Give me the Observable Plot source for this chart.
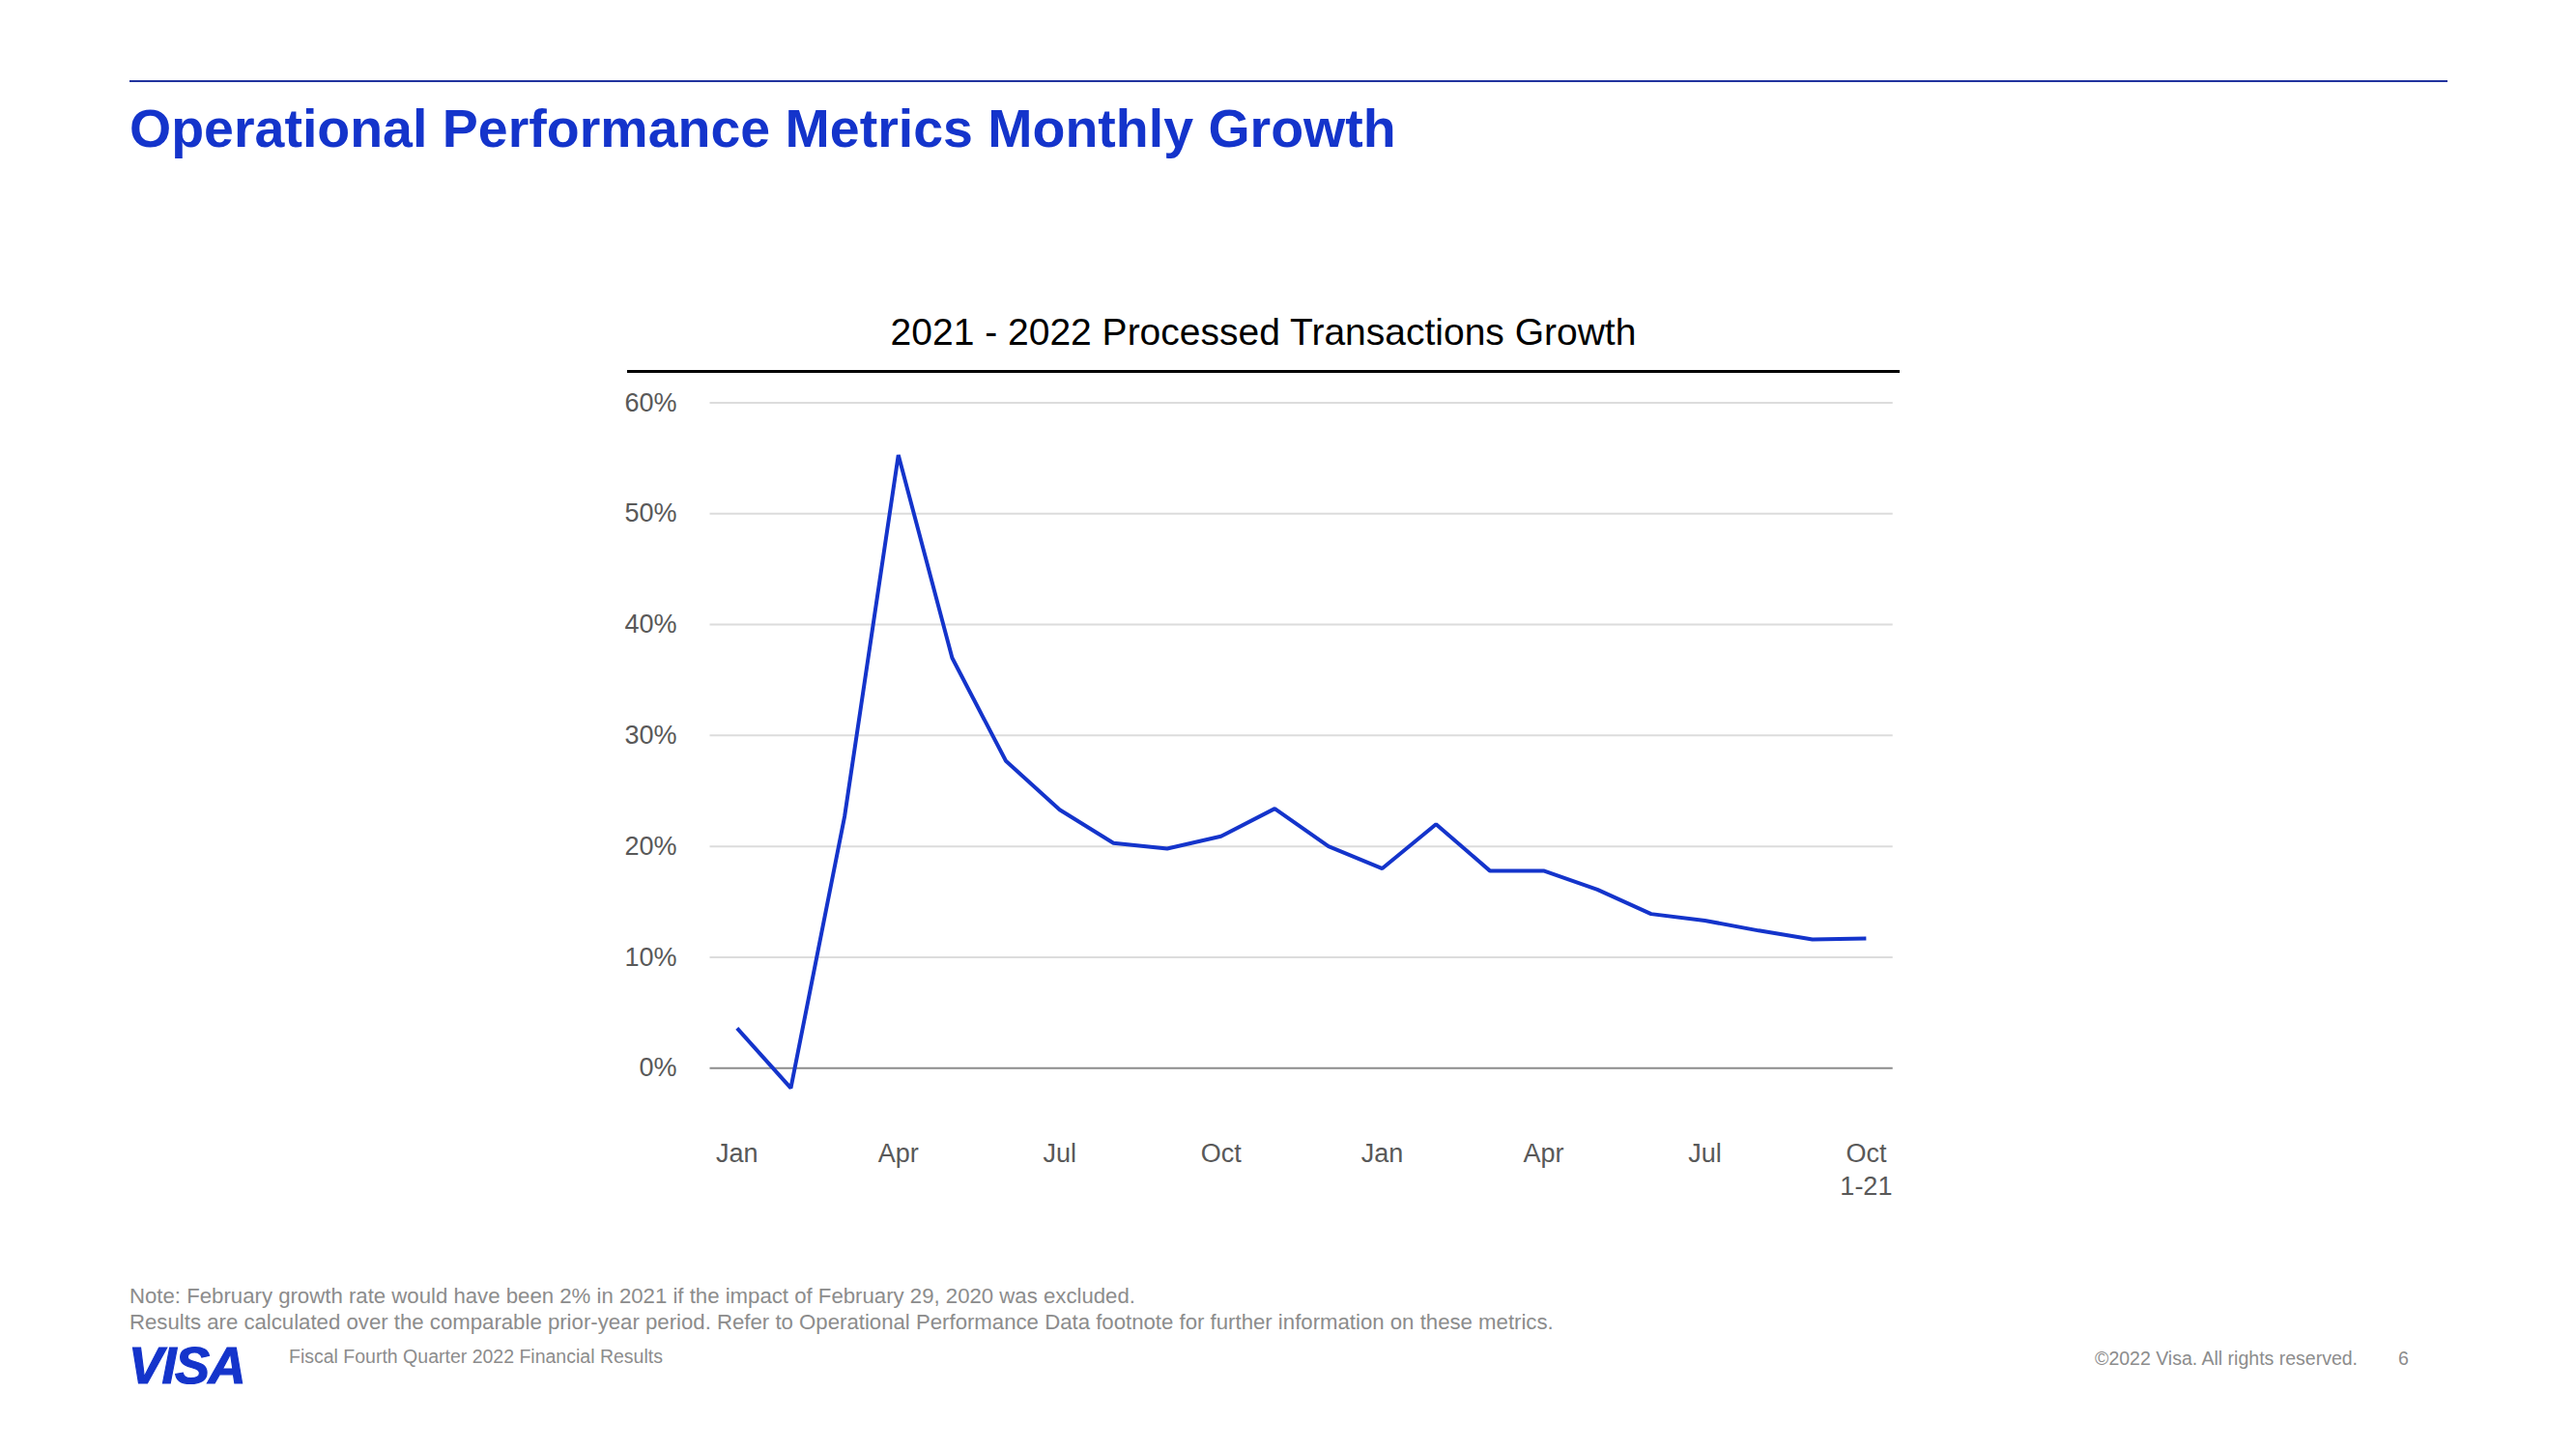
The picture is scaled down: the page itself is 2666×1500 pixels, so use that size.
<!DOCTYPE html>
<html>
<head>
<meta charset="utf-8">
<script src="https://cdn.jsdelivr.net/npm/d3@7"></script>
<script src="https://cdn.jsdelivr.net/npm/@observablehq/plot@0.6"></script>
<style>
  html, body { margin: 0; padding: 0; background: #fff; }
  body { width: 2666px; height: 1500px; position: relative; overflow: hidden;
         font-family: "Liberation Sans", Arial, Helvetica, sans-serif; }
  .abs { position: absolute; white-space: nowrap; }
  #title { left: 134px; top: 106px; font-size: 55.5px; line-height: 55.5px; font-weight: bold; color: #1434cb; }
  #topRule { left: 134px; top: 83px; width: 2399px; height: 2px; background: #22349e; }
  #chartTitle { left: 649px; width: 1317px; top: 324px; font-size: 39px; line-height: 39px; text-align: center; color: #000; }
  #chartRule { left: 649px; top: 383px; width: 1317px; height: 2.5px; background: #000; }
  #chart { left: 600px; top: 380px; }
  #note { left: 134px; top: 1328px; font-size: 22.2px; line-height: 27px; color: #8c8c8c; }
  #logo { left: 133px; top: 1386px; font-size: 54px; line-height: 54px; font-weight: bold; font-style: italic; letter-spacing: -1.5px; color: #1434cb; -webkit-text-stroke: 1.2px #1434cb; }
  #fiscal { left: 299px; top: 1395px; font-size: 19.5px; line-height: 19.5px; color: #8c8c8c; }
  #copy { right: 226px; top: 1396.5px; font-size: 19.5px; line-height: 19.5px; color: #8c8c8c; }
  #page { left: 2482px; top: 1396.5px; font-size: 19.5px; line-height: 19.5px; color: #8c8c8c; }
</style>
</head>
<body>
<div id="topRule" class="abs"></div>
<div id="title" class="abs">Operational Performance Metrics Monthly Growth</div>
<div id="chartTitle" class="abs">2021 - 2022 Processed Transactions Growth</div>
<div id="chartRule" class="abs"></div>
<div id="chart" class="abs"></div>
<div id="note" class="abs">Note: February growth rate would have been 2% in 2021 if the impact of February 29, 2020 was excluded.<br>Results are calculated over the comparable prior-year period. Refer to Operational Performance Data footnote for further information on these metrics.</div>
<div id="logo" class="abs">VISA</div>
<div id="fiscal" class="abs">Fiscal Fourth Quarter 2022 Financial Results</div>
<div id="copy" class="abs">©2022 Visa. All rights reserved.</div>
<div id="page" class="abs">6</div>
<script>
// Months (Jan 2021 – Oct 2022, October 2022 = Oct 1-21)
const months = [
  "2021-01","2021-02","2021-03","2021-04","2021-05","2021-06",
  "2021-07","2021-08","2021-09","2021-10","2021-11","2021-12",
  "2022-01","2022-02","2022-03","2022-04","2022-05","2022-06",
  "2022-07","2022-08","2022-09","2022-10"
];
// Processed transactions growth, % year over year
const growth = [
  3.6, -1.8, 22.7, 55.3, 37.0, 27.7, 23.3, 20.3, 19.8, 20.9, 23.4, 20.0,
  18.0, 22.0, 17.8, 17.8, 16.1, 13.9, 13.3, 12.4, 11.6, 11.7
];
const yTicks = [0, 10, 20, 30, 40, 50, 60];
const xTickMonths = ["2021-01","2021-04","2021-07","2021-10","2022-01","2022-04","2022-07","2022-10"];
const xTickLabels = ["Jan","Apr","Jul","Oct","Jan","Apr","Jul","Oct\n1-21"];

const data = months.map((m, i) => ({month: m, growth: growth[i]}));

const chart = Plot.plot({
  width: 1400,
  height: 880,
  marginLeft: 134.5,
  marginRight: 41.3,
  marginTop: 36.6,
  marginBottom: 86,
  style: {fontFamily: "'Liberation Sans', Arial, sans-serif", background: "transparent"},
  x: {type: "point", domain: months, padding: 0.5, round: false},
  y: {domain: [-6, 60]},
  marks: [
    Plot.gridY(yTicks.filter(d => d > 0), {stroke: "#dcdcdc", strokeOpacity: 1, strokeWidth: 2}),
    Plot.ruleY([0], {stroke: "#8c8c8c", strokeWidth: 2}),
    Plot.axisY(yTicks, {tickSize: 0, tickPadding: 34.5, fontSize: 27, color: "#595959",
      tickFormat: d => d + "%", label: null}),
    Plot.axisX(xTickMonths, {tickSize: 0, tickPadding: 5, fontSize: 27, color: "#595959",
      lineHeight: 1.25, tickFormat: d => xTickLabels[xTickMonths.indexOf(d)], label: null}),
    Plot.line(data, {x: "month", y: "growth", stroke: "#1434cb", strokeWidth: 4,
      strokeLinejoin: "miter", strokeLinecap: "butt"})
  ]
});
document.getElementById("chart").appendChild(chart);
</script>
</body>
</html>
